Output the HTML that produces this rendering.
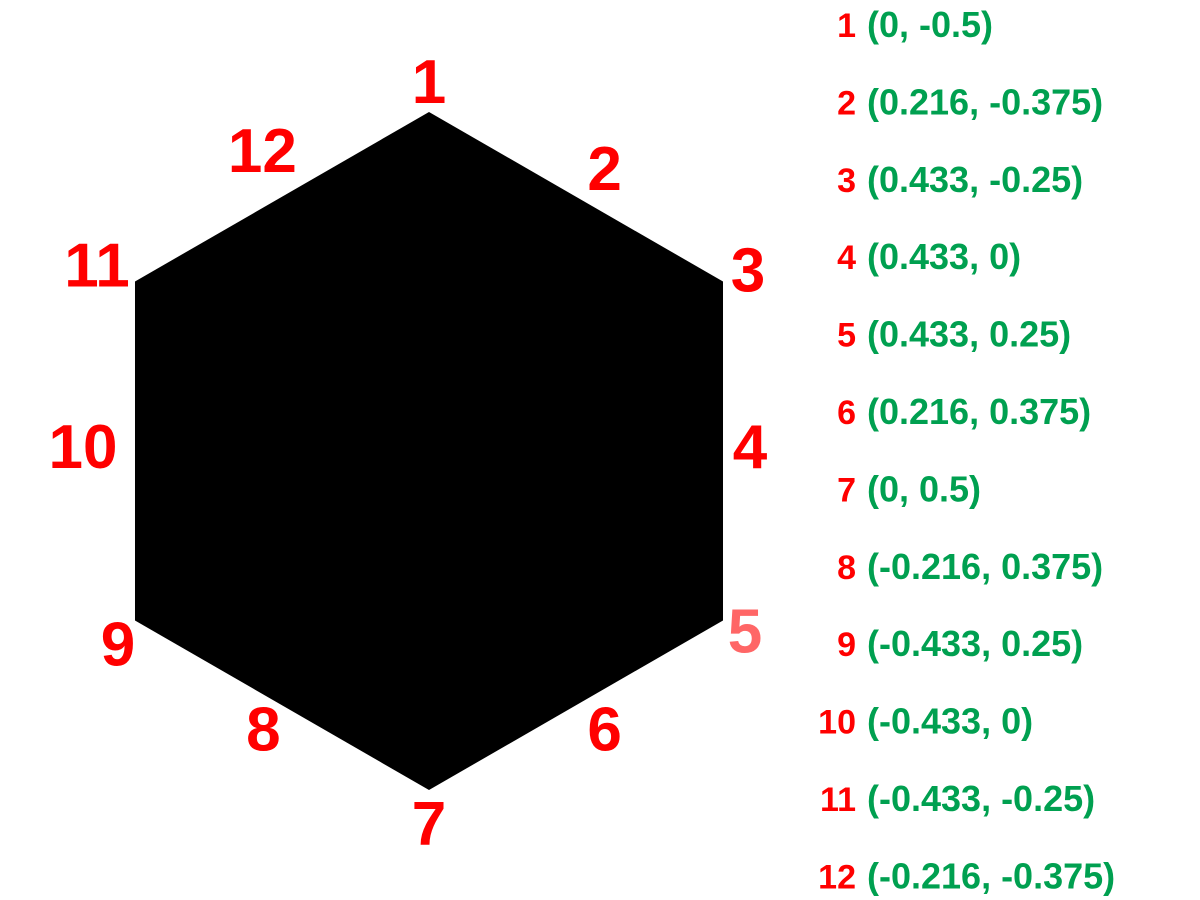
<!DOCTYPE html>
<html><head><meta charset="utf-8"><style>
html,body{margin:0;padding:0;background:#fff;width:1200px;height:900px;overflow:hidden}
svg text{font-family:"Liberation Sans",sans-serif;font-weight:bold}
</style></head><body>
<svg id="chart" width="1200" height="900" xmlns="http://www.w3.org/2000/svg"></svg>
<script>
const vertexIds = [1,2,3,4,5,6,7,8,9,10,11,12];
const xs = [0,0.216,0.433,0.433,0.433,0.216,0,-0.216,-0.433,-0.433,-0.433,-0.216];
const ys = [-0.5,-0.375,-0.25,0,0.25,0.375,0.5,0.375,0.25,0,-0.25,-0.375];
const xLabels = ["0","0.216","0.433","0.433","0.433","0.216","0","-0.216","-0.433","-0.433","-0.433","-0.216"];
const yLabels = ["-0.5","-0.375","-0.25","0","0.25","0.375","0.5","0.375","0.25","0","-0.25","-0.375"];
const cornerIdx = [0,2,4,6,8,10];

const NS="http://www.w3.org/2000/svg";
const svg=document.getElementById('chart');
const cx=429, cy=451, k=679;
const sx=v=>cx+v*k, sy=v=>cy+v*678;

const poly=document.createElementNS(NS,'polygon');


poly.setAttribute('points',cornerIdx.map(i=>sx(xs[i])+','+sy(ys[i])).join(' '));
poly.setAttribute('fill','#000');
svg.appendChild(poly);

const offX=[0,29,25,27,22,29,0,-19,-17,-52,-38,-20];
const offY=[-9,-7,10,17,32,45,55,45,45,17,5,-25];
for(let i=0;i<vertexIds.length;i++){
  const t=document.createElementNS(NS,'text');
  
  
  t.setAttribute('x',sx(xs[i])+offX[i]);
  t.setAttribute('y',sy(ys[i])+offY[i]);
  t.setAttribute('text-anchor','middle');
  t.setAttribute('font-size','62');
  t.setAttribute('fill',vertexIds[i]===5?'#ff6666':'#ff0000');
  t.textContent=vertexIds[i];
  svg.appendChild(t);
}
for(let i=0;i<vertexIds.length;i++){
  const y=37+i*77.4;
  const n=document.createElementNS(NS,'text');
  
  
  n.setAttribute('x',856);n.setAttribute('y',y);
  n.setAttribute('text-anchor','end');
  n.setAttribute('font-size','34');n.setAttribute('fill','#ff0000');
  n.textContent=vertexIds[i];
  svg.appendChild(n);
  const c=document.createElementNS(NS,'text');
  
  
  c.setAttribute('x',867);c.setAttribute('y',y);
  c.setAttribute('font-size','36');c.setAttribute('fill','#00a050');
  c.textContent='('+xLabels[i]+', '+yLabels[i]+')';
  svg.appendChild(c);
}
</script>
</body></html>
